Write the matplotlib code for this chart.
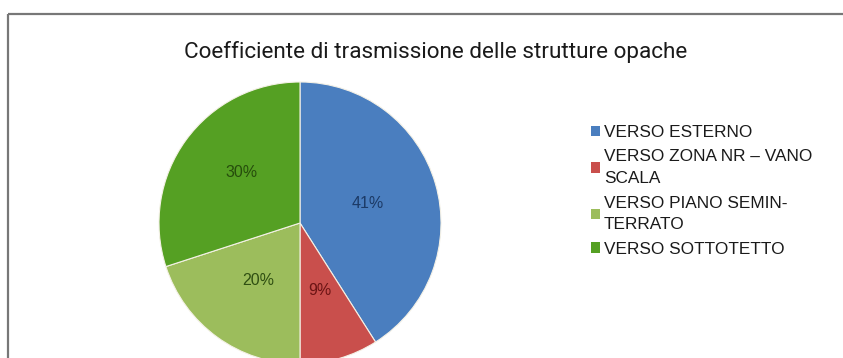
import matplotlib
matplotlib.use("Agg")
import matplotlib.pyplot as plt
from matplotlib import font_manager
from matplotlib.lines import Line2D
from matplotlib.patches import Patch
import numpy as np

W, H, DPI = 843, 358, 100

title = "Coefficiente di trasmissione delle strutture opache"
categories = [
    "VERSO ESTERNO",
    "VERSO ZONA NR \u2013 VANO\nSCALA",
    "VERSO PIANO SEMIN-\nTERRATO",
    "VERSO SOTTOTETTO",
]
values = [41, 9, 20, 30]
slice_colors = ["#4a7ebf", "#c94f4c", "#9cbd5c", "#55a023"]
label_colors = ["#1c3a66", "#6b1414", "#2f4f12", "#264d0c"]

installed = {f.name for f in font_manager.fontManager.ttflist}
narrow = "Liberation Sans Narrow" if "Liberation Sans Narrow" in installed else "Roboto"

fig = plt.figure(figsize=(W / DPI, H / DPI), dpi=DPI)
fig.patch.set_facecolor("white")

# frame: only the top and left edges fall inside the canvas
fig.add_artist(Line2D([8 / W, 8 / W], [0, 1 - 14 / H], color="#777777",
                      lw=1.6, transform=fig.transFigure, solid_capstyle="butt"))
fig.add_artist(Line2D([8 / W, 1], [1 - 14 / H, 1 - 14 / H], color="#777777",
                      lw=1.6, transform=fig.transFigure, solid_capstyle="butt"))

fig.text(436 / W, 1 - 52 / H, title, ha="center", va="center",
         fontsize=16 if narrow != "Roboto" else 16.2, color="#1a1a1a",
         family=[narrow, "DejaVu Sans"])

# pie: centre (300, 223) px, radius 141 px
cx, cy, r = 300, 223, 141
ax = fig.add_axes([(cx - r) / W, (H - cy - r) / H, 2 * r / W, 2 * r / H])
wedges, texts, autotexts = ax.pie(
    values, colors=slice_colors, startangle=90, counterclock=False,
    autopct=lambda p: f"{p:.0f}%", pctdistance=0.5, radius=1.0,
    wedgeprops=dict(edgecolor="#f4f1e6", linewidth=0.8),
    textprops=dict(fontsize=11.5, family=["Liberation Sans", "DejaVu Sans"]),
)
for w, t, c in zip(wedges, autotexts, label_colors):
    t.set_color(c)
# the 30% label sits a little higher and further out
mid = np.deg2rad((wedges[3].theta1 + wedges[3].theta2) / 2 - 5)
autotexts[3].set_position((0.55 * np.cos(mid), 0.55 * np.sin(mid)))
ax.set_xlim(-1, 1)
ax.set_ylim(-1, 1)
ax.set_aspect("equal")
ax.axis("off")

handles = [Patch(facecolor=c, edgecolor="none") for c in slice_colors]
leg = fig.legend(handles, categories, loc="upper left",
                 bbox_to_anchor=(591 / W, 1 - 125 / H), frameon=False,
                 prop=dict(family=["Liberation Sans", "DejaVu Sans"], size=12.4),
                 handlelength=0.55, handleheight=0.55, handletextpad=0.2,
                 labelspacing=0.55, borderpad=0, borderaxespad=0)
for t in leg.get_texts():
    t.set_color("#1a1a1a")
    t.set_linespacing(1.55)

fig.savefig("out.png", dpi=DPI, facecolor="white")
